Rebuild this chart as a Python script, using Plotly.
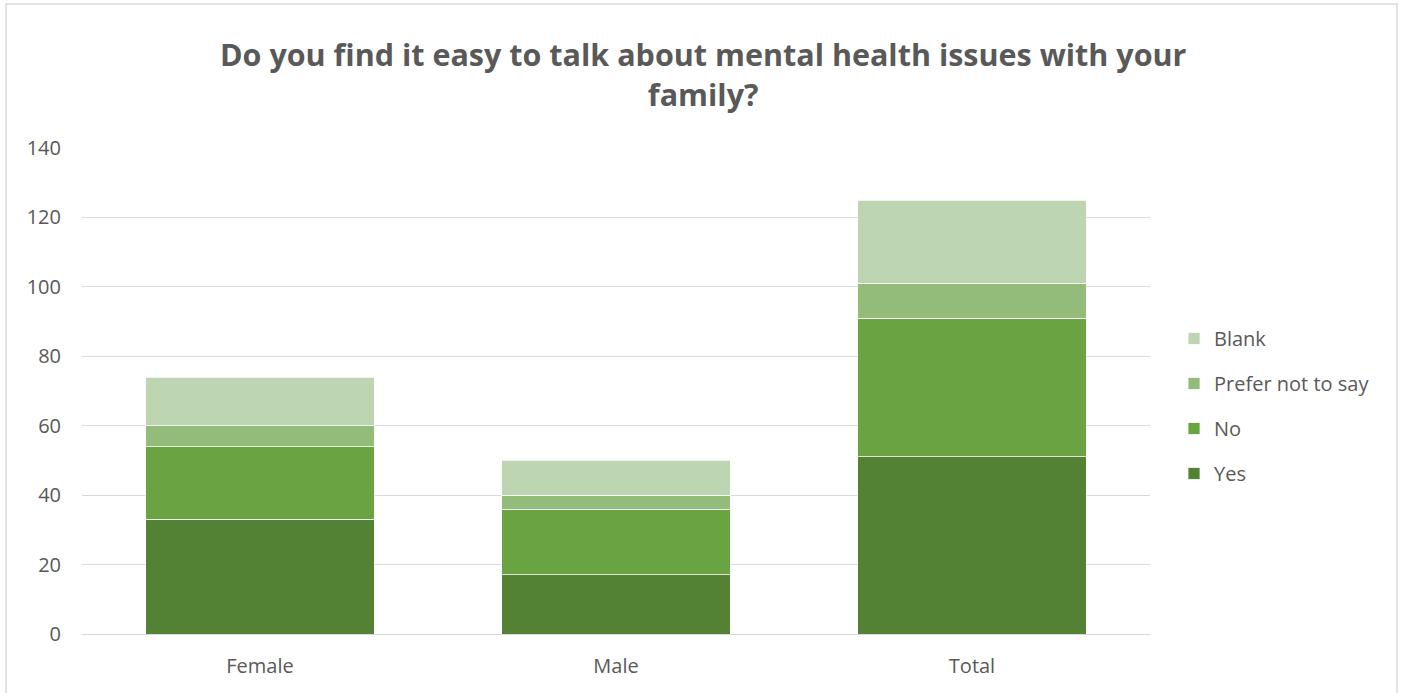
import plotly.graph_objects as go

categories = ["Female", "Male", "Total"]
yes = [33, 17, 51]
no = [21, 19, 40]
prefer_not = [6, 4, 10]
blank = [14, 10, 24]
y_ticks = [0, 20, 40, 60, 80, 100, 120, 140]

series = [
    ("Yes", yes, "#548235", 4),
    ("No", no, "#6AA342", 3),
    ("Prefer not to say", prefer_not, "#93BB79", 2),
    ("Blank", blank, "#BED5B1", 1),
]

fig = go.Figure()
for name, vals, col, rank in series:
    fig.add_trace(go.Bar(
        x=categories, y=vals, name=name, legendgroup=name, legendrank=rank,
        marker=dict(color=col, line=dict(color="white", width=0.75)),
    ))

W, H = 1402, 693
l, r, t, b = 82, 252, 148, 59
pw, ph = W - l - r, H - t - b

fig.update_layout(
    width=W, height=H,
    barmode="stack", bargap=0.357,
    paper_bgcolor="white", plot_bgcolor="white",
    margin=dict(l=l, r=r, t=t, b=b, autoexpand=False),
    font=dict(family="Open Sans", color="#595959", size=20),
    legend=dict(
        x=(1174 - l) / pw, xanchor="left", y=(634 - 406) / ph, yanchor="middle",
        traceorder="grouped", tracegroupgap=16,
        font=dict(size=20, color="#595959"), itemwidth=30,
    ),
    yaxis=dict(range=[0, 140], tickvals=y_ticks, showgrid=True, gridcolor="#D9D9D9",
               gridwidth=1, zeroline=False, showline=False, ticks="", ticklabelstandoff=20,
               tickfont=dict(size=20)),
    xaxis=dict(showline=True, linecolor="#D9D9D9", linewidth=1, ticks="",
               tickfont=dict(size=20), ticklabelstandoff=14),
    showlegend=True,
)

fig.add_annotation(
    text="<b>Do you find it easy to talk about mental health issues with your<br>family?</b>",
    xref="paper", yref="paper", x=(703 - l) / pw, y=(634 - 74) / ph,
    xanchor="center", yanchor="middle", showarrow=False, align="center",
    font=dict(family="Open Sans", size=30.5, color="#595959"),
)

fig.add_shape(type="rect", xref="paper", yref="paper",
              x0=(6 - l) / pw, x1=(1397 - l) / pw,
              y0=(634 - 720) / ph, y1=(634 - 4) / ph,
              line=dict(color="#D9D9D9", width=1.5), fillcolor="rgba(0,0,0,0)", layer="below")

fig.write_html("out.html")
